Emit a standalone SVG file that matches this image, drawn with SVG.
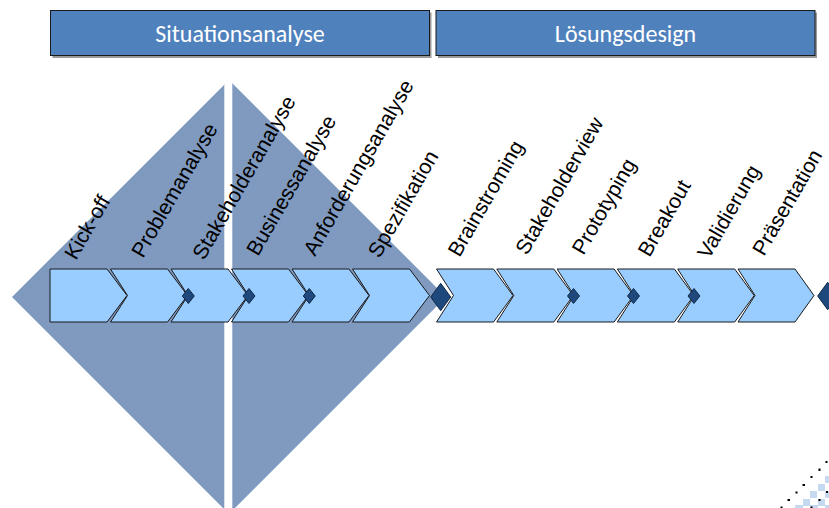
<svg xmlns="http://www.w3.org/2000/svg" width="829" height="508" viewBox="0 0 829 508">
<style>
.hdr{fill:#4f81bd;stroke:#1a1a1a;stroke-width:1}
.shd{fill:#9a9a9a}
.htxt{font-family:Carlito,Lato,"Liberation Sans",sans-serif;font-size:24px;fill:#ffffff;text-anchor:middle}
.chev{fill:#99ccff;stroke:#1a1a1a;stroke-width:1;stroke-linejoin:miter}
.ms{fill:#1f497d;stroke:#0f2a4a;stroke-width:1}
.lbl{font-family:"Liberation Sans",Arial,sans-serif;font-size:21px;fill:#000000}
.dot{fill:#000000}
.chk{fill:#c5d9f1}
</style>
<rect x="0" y="0" width="829" height="508" fill="#ffffff"/>
<g id="background">
<polygon points="12,297 229,80 446,297 229,514" fill="#7f99bf"/>
<rect x="224.3" y="70" width="8" height="440" fill="#ffffff"/>
</g>
<g id="header-situationsanalyse">
<rect class="shd" x="52.5" y="12.5" width="379" height="45.5"/>
<rect class="hdr" x="50.5" y="10.5" width="379" height="45"/>
<text class="htxt" x="240" y="41.5">Situationsanalyse</text>
</g>
<g id="header-loesungsdesign">
<rect class="shd" x="438" y="12.5" width="379" height="45.5"/>
<rect class="hdr" x="436" y="10.5" width="379" height="45"/>
<text class="htxt" x="625.5" y="41.5">Lösungsdesign</text>
</g>
<g id="step-kickoff">
<path class="chev" d="M50,269 L107,269 L127,295.5 L107,322 L50,322 Z"/>
<text class="lbl" transform="translate(76,261) rotate(-60)">Kick-off</text>
</g>
<g id="step-problemanalyse">
<path class="chev" d="M110.5,269 L167.5,269 L187.5,295.5 L167.5,322 L110.5,322 L127.5,295.5 Z"/>
<text class="lbl" transform="translate(143,259) rotate(-60)">Problemanalyse</text>
</g>
<g id="step-stakeholderanalyse">
<path class="chev" d="M171,269 L228,269 L248,295.5 L228,322 L171,322 L188,295.5 Z"/>
<text class="lbl" transform="translate(204,261) rotate(-60)">Stakeholderanalyse</text>
</g>
<g id="step-businessanalyse">
<path class="chev" d="M231.5,269 L288.5,269 L308.5,295.5 L288.5,322 L231.5,322 L248.5,295.5 Z"/>
<text class="lbl" transform="translate(258,257) rotate(-60)">Businessanalyse</text>
</g>
<g id="step-anforderungsanalyse">
<path class="chev" d="M292,269 L349,269 L369,295.5 L349,322 L292,322 L309,295.5 Z"/>
<text class="lbl" transform="translate(315,257) rotate(-60)">Anforderungsanalyse</text>
</g>
<g id="step-spezifikation">
<path class="chev" d="M352.5,269 L409.5,269 L429.5,295.5 L409.5,322 L352.5,322 L369.5,295.5 Z"/>
<text class="lbl" transform="translate(379.5,259) rotate(-60)">Spezifikation</text>
</g>
<g id="step-brainstroming">
<path class="chev" d="M436.5,269 L493.5,269 L513,295.5 L493.5,322 L436.5,322 L453.5,295.5 Z"/>
<text class="lbl" transform="translate(459.5,258) rotate(-60)">Brainstroming</text>
</g>
<g id="step-stakeholderview">
<path class="chev" d="M496.8,269 L553.8,269 L573.3,295.5 L553.8,322 L496.8,322 L513.8,295.5 Z"/>
<text class="lbl" transform="translate(527,256) rotate(-60)">Stakeholderview</text>
</g>
<g id="step-prototyping">
<path class="chev" d="M557.1,269 L614.1,269 L633.6,295.5 L614.1,322 L557.1,322 L574.1,295.5 Z"/>
<text class="lbl" transform="translate(583.5,256) rotate(-60)">Prototyping</text>
</g>
<g id="step-breakout">
<path class="chev" d="M617.4,269 L674.4,269 L693.9,295.5 L674.4,322 L617.4,322 L634.4,295.5 Z"/>
<text class="lbl" transform="translate(649.5,258) rotate(-60)">Breakout</text>
</g>
<g id="step-validierung">
<path class="chev" d="M677.7,269 L734.7,269 L754.2,295.5 L734.7,322 L677.7,322 L694.7,295.5 Z"/>
<text class="lbl" transform="translate(709,260) rotate(-60)">Validierung</text>
</g>
<g id="step-praesentation">
<path class="chev" d="M738,269 L795,269 L814,295.5 L795,322 L738,322 L755,295.5 Z"/>
<text class="lbl" transform="translate(764,257) rotate(-60)">Präsentation</text>
</g>
<g id="connectors">
<polygon class="ms" points="182.3,296 188.3,288.5 194.3,296 188.3,303.5"/>
<polygon class="ms" points="243,296 249,288.5 255,296 249,303.5"/>
<polygon class="ms" points="303.3,296 309.3,288.5 315.3,296 309.3,303.5"/>
<polygon class="ms" points="567.5,296 573.5,288.5 579.5,296 573.5,303.5"/>
<polygon class="ms" points="627.5,296 633.5,288.5 639.5,296 633.5,303.5"/>
<polygon class="ms" points="688,296 694,288.5 700,296 694,303.5"/>
<polygon class="ms" points="430.7,297 440.7,283.3 450.7,297 440.7,310.7"/>
<polygon class="ms" points="817.7,296 827.7,282.3 837.7,296 827.7,309.7"/>
</g>
<g id="corner-decoration">
<rect class="chk" x="825" y="476" width="6" height="7"/>
<rect class="chk" x="818" y="484" width="7" height="7"/>
<rect class="chk" x="810" y="491" width="7" height="7"/>
<rect class="chk" x="803" y="499" width="7" height="7"/>
<rect class="chk" x="818" y="499" width="7" height="7"/>
<rect class="chk" x="825" y="491" width="6" height="7"/>
<rect class="chk" x="795" y="505" width="8" height="3"/>
<rect class="chk" x="810" y="505" width="8" height="3"/>
<rect class="chk" x="825" y="505" width="6" height="3"/>
<rect class="dot" x="825.5" y="461" width="2" height="2"/>
<rect class="dot" x="818.5" y="468.5" width="2" height="2.5"/>
<rect class="dot" x="810.5" y="476" width="2" height="2"/>
<rect class="dot" x="802.5" y="484" width="2.5" height="2"/>
<rect class="dot" x="795.5" y="491.5" width="2" height="2"/>
<rect class="dot" x="787.5" y="499" width="2.5" height="2"/>
<rect class="dot" x="780.5" y="506.5" width="2" height="1.5"/>
<rect class="dot" x="826" y="491" width="2" height="2"/>
<rect class="dot" x="818.5" y="499" width="2" height="2"/>
<rect class="dot" x="810.5" y="506.5" width="2" height="1.5"/>
</g>
</svg>
